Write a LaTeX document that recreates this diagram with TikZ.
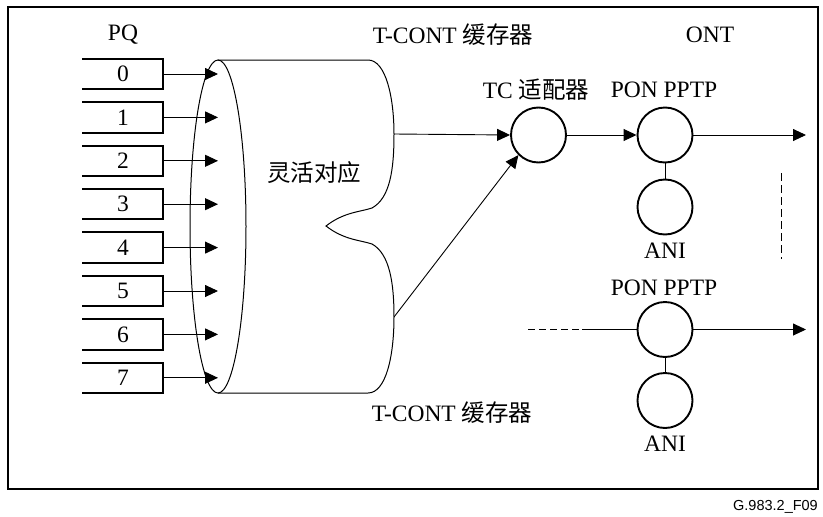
\documentclass[tikz,border=0pt]{standalone}
\usepackage{fontspec}
\setmainfont{Liberation Serif}
\newfontfamily\cjk{Noto Sans CJK SC}
\newfontfamily\sansf{Liberation Sans}
\usetikzlibrary{arrows.meta}
\begin{document}
\begin{tikzpicture}[x=1pt,y=-1pt,
  lbl/.style={font=\fontsize{23.5}{27}\selectfont, inner sep=0pt},
  qbox/.style={minimum width=80pt, minimum height=30pt, inner sep=0pt, font=\fontsize{23.5}{27}\selectfont},
  boxline/.style={line width=2pt, line cap=rect},
  conn/.style={line width=0.9pt, -{Triangle[length=13pt,width=12pt]}},
  plain/.style={line width=0.9pt},
  ring/.style={circle, draw, line width=1.9pt, minimum size=55pt, inner sep=0pt},
  thinshape/.style={line width=1pt}]
\useasboundingbox (0,0) rectangle (823,517);
\draw[line width=1.3pt] (8,7) rectangle (818,489);

% labels
\node[lbl] (pq) at (123,35) {PQ};
\node[lbl] (tcontT) at (453,35) {T-CONT {\cjk 缓存器}};
\node[lbl] (ont) at (710,35) {ONT};
\node[lbl] (tcontB) at (452,413) {T-CONT {\cjk 缓存器}};
\node[lbl] (flex) at (314,173) {\cjk 灵活对应};

% cylinder
\draw[thinshape] (218,226.5) ellipse [x radius=28, y radius=166.5];
\draw[thinshape] (218,60) -- (368,60)
  .. controls (386,60) and (394,98) .. (394,134)
  .. controls (394,170) and (390,198) .. (372,208)
  .. controls (360,212) and (344,212) .. (326,226)
  .. controls (344,240) and (360,240) .. (372,244)
  .. controls (390,254) and (394,284) .. (394,317)
  .. controls (394,356) and (386,393) .. (368,393) -- (218,393);
\coordinate (cylA) at (394,134);
\coordinate (cylB) at (394,317);

% PQ boxes and arrows
\foreach \i in {0,...,7} {
  \node[qbox] (b\i) at (123,{74+43.4*\i}) {\i};
  \draw[boxline] (b\i.north west) -- (b\i.north east) -- (b\i.south east) -- (b\i.south west);
  \coordinate (t\i) at (218,{74+43.4*\i});
  \draw[conn] (b\i.east) -- (t\i);
}

% TC adapter and ONT
\node[ring] (tc) at (538.5,135) {};
\node[lbl] (tclbl) at (536,90) {TC {\cjk 适配器}};
\node[ring] (pon1) at (665,135) {};
\node[lbl] (pon1lbl) at (664,90) {PON PPTP};
\node[ring] (ani1) at (665,207) {};
\node[lbl] (ani1lbl) at (665,251) {ANI};
\coordinate (out1) at (806,135);

\node[ring] (pon2) at (665,329.5) {};
\node[lbl] (pon2lbl) at (664,288) {PON PPTP};
\node[ring] (ani2) at (665,400.5) {};
\node[lbl] (ani2lbl) at (665,444) {ANI};
\coordinate (out2) at (806,329.5);
\coordinate (in2a) at (528,329.5);
\coordinate (in2b) at (582,329.5);

\draw[conn] (cylA) -- (tc.west);
\draw[conn] (cylB) -- (tc.south west);
\draw[conn] (tc.east) -- (pon1.west);
\draw[conn] (pon1.east) -- (out1);
\draw[plain] (pon1.south) -- (ani1.north);
\draw[plain] (pon2.south) -- (ani2.north);
\draw[conn] (pon2.east) -- (out2);
\draw[plain] (in2b) -- (pon2.west);
\draw[plain, dash pattern=on 7pt off 4pt] (in2a) -- (in2b);

\coordinate (d1) at (781,173);
\coordinate (d2) at (781,259);
\draw[plain, dash pattern=on 8pt off 4pt] (d1) -- (d2);

\node[font=\sansf\fontsize{14.5}{17}\selectfont, anchor=east, inner sep=0pt] (fig) at (818,507) {G.983.2\_F09};
\end{tikzpicture}
\end{document}
